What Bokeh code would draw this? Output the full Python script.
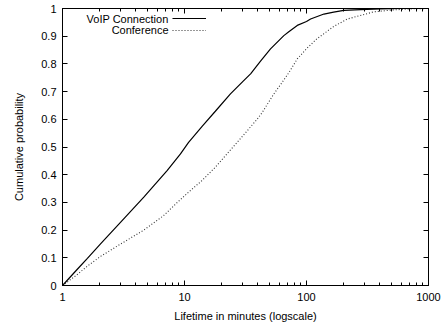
from bokeh.plotting import figure
from bokeh.models import (LinearAxis, LogAxis, FixedTicker, Label, Legend, LegendItem, Range1d)
from bokeh.embed import file_html
from bokeh.resources import INLINE

# Data
voip_x = [1, 1.3, 1.6, 2.05, 3, 4.64, 7.2, 9.27, 10.8, 14, 17.9, 23.8, 30, 34.8, 42, 50.7, 65.2, 71.6, 84, 100, 108, 139, 167, 202, 277, 405, 600, 1000]
voip_y = [0, 0.055, 0.098, 0.150, 0.229, 0.319, 0.415, 0.475, 0.517, 0.575, 0.629, 0.692, 0.736, 0.764, 0.81, 0.854, 0.902, 0.916, 0.939, 0.953, 0.962, 0.980, 0.987, 0.993, 0.996, 0.999, 1.0, 1.0]

conf_x = [1, 1.3, 1.6, 2.05, 3, 4.64, 6.77, 8.5, 10.8, 14, 17.9, 25, 30, 39.4, 43.4, 53.7, 65.2, 71.6, 84, 100, 122, 167, 216, 356, 516, 750, 1000]
conf_y = [0, 0.037, 0.07, 0.105, 0.15, 0.20, 0.253, 0.295, 0.337, 0.38, 0.427, 0.50, 0.54, 0.60, 0.625, 0.69, 0.742, 0.768, 0.818, 0.855, 0.891, 0.935, 0.962, 0.988, 0.995, 0.999, 1.0]

x_ticks = [1, 10, 100, 1000]
x_tick_labels = ["1", "10", "100", "1000"]
x_minor = [2, 3, 4, 5, 6, 7, 8, 9, 20, 30, 40, 50, 60, 70, 80, 90, 200, 300, 400, 500, 600, 700, 800, 900]
y_ticks = [0, 0.1, 0.2, 0.3, 0.4, 0.5, 0.6, 0.7, 0.8, 0.9, 1]
y_tick_labels = ["0", "0.1", "0.2", "0.3", "0.4", "0.5", "0.6", "0.7", "0.8", "0.9", "1"]
series_names = ["VoIP Connection", "Conference"]

FONT = "Liberation Sans"
FS = "11px"

p = figure(width=448, height=325, x_axis_type="log", output_backend="svg",
           toolbar_location=None, x_range=Range1d(1, 1000), y_range=Range1d(0, 1),
           min_border_left=62, min_border_right=20, min_border_top=8, min_border_bottom=40,
           x_axis_label="Lifetime in minutes (logscale)", y_axis_label="Cumulative probability")
p.grid.visible = False
p.outline_line_color = "black"
p.outline_line_width = 1
p.background_fill_color = "white"
p.border_fill_color = "white"

r1 = p.line(voip_x, voip_y, line_color="black", line_width=1.2)
r2 = p.line(conf_x, conf_y, line_color="#333333", line_width=1.1, line_dash="1 2")

def style(ax):
    ax.axis_line_color = "black"
    ax.major_tick_line_color = "black"
    ax.minor_tick_line_color = "black"
    ax.major_tick_in = 5
    ax.major_tick_out = 0
    ax.minor_tick_in = 3
    ax.minor_tick_out = 0
    ax.major_label_text_font = FONT
    ax.major_label_text_font_size = FS
    ax.major_label_text_color = "black"
    ax.axis_label_text_font = FONT
    ax.axis_label_text_font_size = FS
    ax.axis_label_text_font_style = "normal"
    ax.axis_label_text_color = "black"

xa = p.xaxis[0]
xa.ticker = FixedTicker(ticks=x_ticks, minor_ticks=x_minor)
xa.major_label_overrides = {t: l for t, l in zip(x_ticks, x_tick_labels)}
style(xa)
xa.major_label_standoff = 7
xa.axis_label_standoff = 6

ya = p.yaxis[0]
ya.ticker = FixedTicker(ticks=y_ticks)
ya.major_label_overrides = {t: l for t, l in zip(y_ticks, y_tick_labels)}
style(ya)
ya.minor_tick_line_color = None
ya.major_label_standoff = 6
ya.axis_label_standoff = 13

top = LogAxis(ticker=FixedTicker(ticks=x_ticks, minor_ticks=x_minor),
              major_label_overrides={t: "" for t in x_ticks})
style(top)
top.major_label_standoff = 0
p.add_layout(top, "above")

right = LinearAxis(ticker=FixedTicker(ticks=y_ticks),
                   major_label_overrides={t: "" for t in y_ticks})
style(right)
right.minor_tick_line_color = None
right.major_label_standoff = 0
p.add_layout(right, "right")

# Legend: text right-aligned, sample lines to the right (one legend box per row)
row_y = [261.7, 250.5]
for r, ly in zip([r1, r2], row_y):
    lg = Legend(items=[LegendItem(label=" ", renderers=[r])],
                glyph_width=34, glyph_height=10, spacing=0,
                padding=0, margin=0, label_standoff=0, label_width=0, label_height=0,
                background_fill_alpha=0, border_line_color=None,
                label_text_font_size="1px")
    p.add_layout(lg, "center")
    lg.location = (110, ly)

for name, ly in zip(series_names, row_y):
    p.add_layout(Label(x=106, y=ly + 4.6, x_units="screen", y_units="screen", text=name,
                       text_font=FONT, text_font_size=FS, text_align="right",
                       text_baseline="middle", text_color="black"))

open("out.html", "w").write(file_html(p, INLINE))
